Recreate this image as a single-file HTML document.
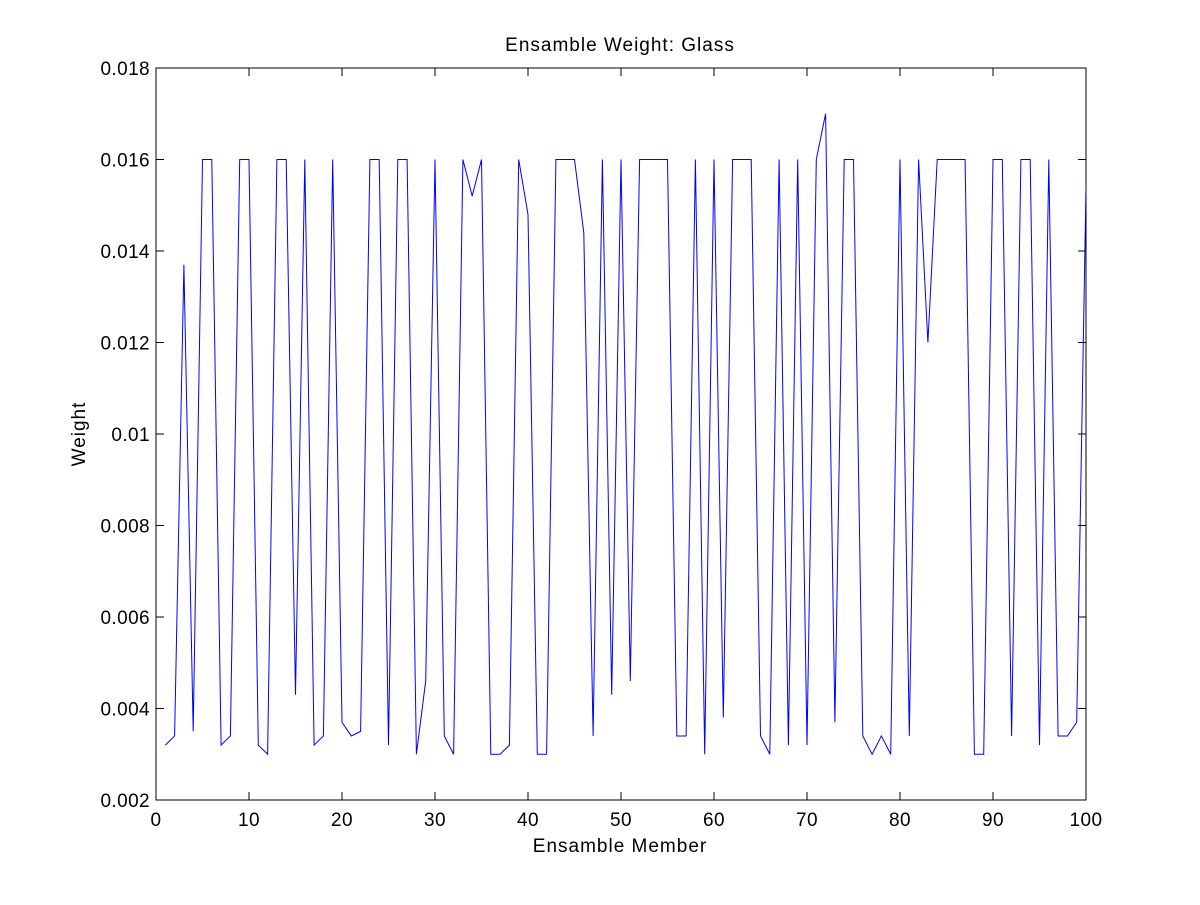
<!DOCTYPE html>
<html><head><meta charset="utf-8"><style>
body{margin:0;background:#fff;}
svg text{font-family:"Liberation Sans",sans-serif;font-size:19px;fill:#000;}
.lbl{letter-spacing:1px;}
.tick{letter-spacing:0.4px;}
</style></head><body>
<svg id="chart" width="1200" height="900">
<rect width="1200" height="900" fill="#fff"/>
<g id="axes"></g>
<polyline id="series" fill="none" stroke="#0000ff" stroke-width="1"/>
<text class="lbl" x="620" y="51" text-anchor="middle">Ensamble Weight: Glass</text>
<text class="lbl" x="620" y="852" text-anchor="middle">Ensamble Member</text>
<text class="lbl" transform="translate(85,434) rotate(-90)" text-anchor="middle">Weight</text>
</svg>
<script>
const xTicks=[0,10,20,30,40,50,60,70,80,90,100];
const yTicks=[0.002,0.004,0.006,0.008,0.01,0.012,0.014,0.016,0.018];
const yTickLabels=["0.002","0.004","0.006","0.008","0.01","0.012","0.014","0.016","0.018"];
const weights=[0.0032,0.0034,0.0137,0.0035,0.0160,0.0160,0.0032,0.0034,0.0160,0.0160,
0.0032,0.0030,0.0160,0.0160,0.0043,0.0160,0.0032,0.0034,0.0160,0.0037,
0.0034,0.0035,0.0160,0.0160,0.0032,0.0160,0.0160,0.0030,0.0046,0.0160,
0.0034,0.0030,0.0160,0.0152,0.0160,0.0030,0.0030,0.0032,0.0160,0.0148,
0.0030,0.0030,0.0160,0.0160,0.0160,0.0144,0.0034,0.0160,0.0043,0.0160,
0.0046,0.0160,0.0160,0.0160,0.0160,0.0034,0.0034,0.0160,0.0030,0.0160,
0.0038,0.0160,0.0160,0.0160,0.0034,0.0030,0.0160,0.0032,0.0160,0.0032,
0.0160,0.0170,0.0037,0.0160,0.0160,0.0034,0.0030,0.0034,0.0030,0.0160,
0.0034,0.0160,0.0120,0.0160,0.0160,0.0160,0.0160,0.0030,0.0030,0.0160,
0.0160,0.0034,0.0160,0.0160,0.0032,0.0160,0.0034,0.0034,0.0037,0.0154];
const L=156,R=1086,T=68,B=800;
const xs=v=>L+(v-0)/100*(R-L);
const ys=v=>B-(v-0.002)/0.016*(B-T);
const NS="http://www.w3.org/2000/svg";
const ax=document.getElementById('axes');
function mk(tag,attrs){const e=document.createElementNS(NS,tag);for(const k in attrs)e.setAttribute(k,attrs[k]);ax.appendChild(e);return e;}
const frame=mk('rect',{x:L,y:T,width:R-L,height:B-T,fill:'none',stroke:'#000','stroke-width':1});


xTicks.forEach(t=>{const x=xs(t);
const a=mk('line',{x1:x,x2:x,y1:B,y2:B-8,stroke:'#000'});


const b=mk('line',{x1:x,x2:x,y1:T,y2:T+8,stroke:'#000'});


const tx=mk('text',{x:x,y:B+26,'text-anchor':'middle','class':'tick'});tx.textContent=t;

});
yTicks.forEach((t,i)=>{const y=ys(t);
const a=mk('line',{x1:L,x2:L+8,y1:y,y2:y,stroke:'#000'});


const b=mk('line',{x1:R,x2:R-8,y1:y,y2:y,stroke:'#000'});


const tx=mk('text',{x:L-6,y:y+7,'text-anchor':'end','class':'tick'});tx.textContent=yTickLabels[i];

});
document.getElementById('series').setAttribute('points',weights.map((w,i)=>xs(i+1)+','+ys(w)).join(' '));
</script>
</body></html>
